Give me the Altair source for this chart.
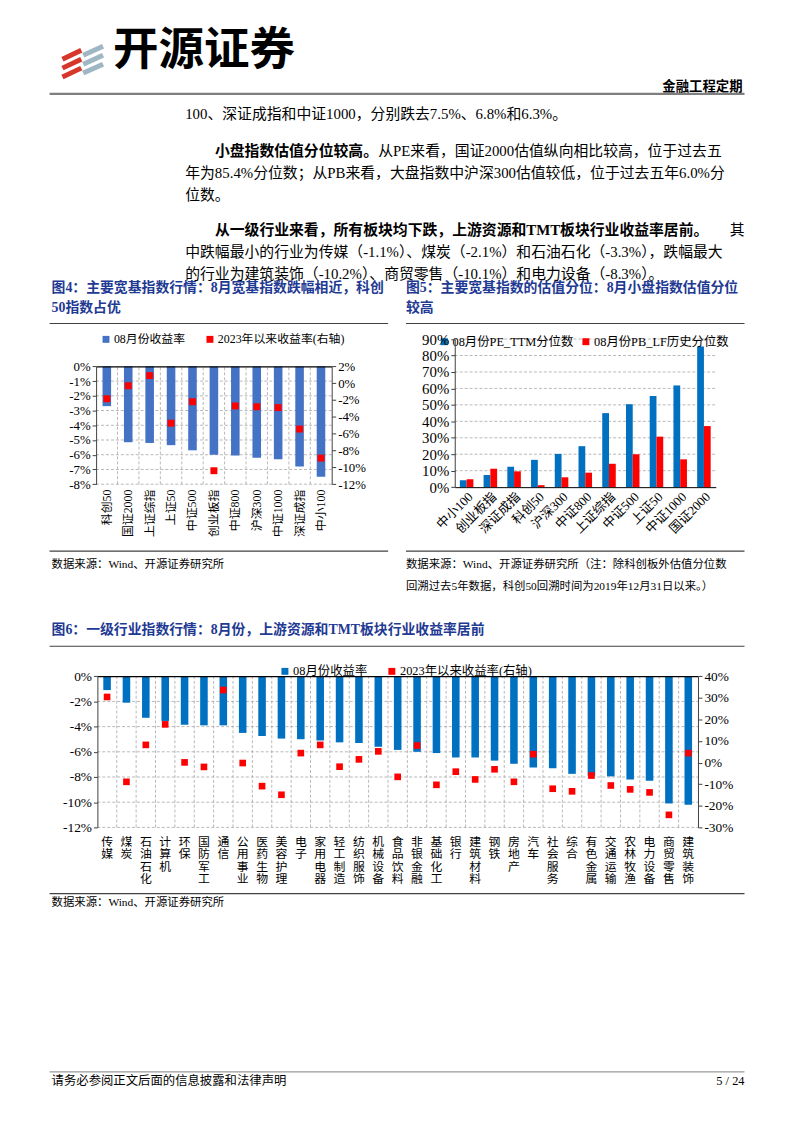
import altair as alt
import pandas as pd

W, H = 794, 1125
SERIF = "Liberation Serif, Noto Sans CJK SC"
CJK = "Noto Sans CJK SC"
NAVY = "#1f3a93"

# ---------------- text content ----------------
brand = "开源证券"
tag = "金融工程定期"
body_plain = [
    "100、深证成指和中证1000，分别跌去7.5%、6.8%和6.3%。",
    "年为85.4%分位数；从PB来看，大盘指数中沪深300估值较低，位于过去五年6.0%分",
    "位数。",
    "中跌幅最小的行业为传媒（-1.1%）、煤炭（-2.1%）和石油石化（-3.3%），跌幅最大",
    "的行业为建筑装饰（-10.2%）、商贸零售（-10.1%）和电力设备（-8.3%）。",
]
body_bold = ["小盘指数估值分位较高。", "从一级行业来看，所有板块均下跌，上游资源和TMT板块行业收益率居前。"]
body_after_bold = ["从PE来看，国证2000估值纵向相比较高，位于过去五", "其"]
title4 = ["图4：主要宽基指数行情：8月宽基指数跌幅相近，科创", "50指数占优"]
title5 = ["图5：主要宽基指数的估值分位：8月小盘指数估值分位", "较高"]
title6 = "图6：一级行业指数行情：8月份，上游资源和TMT板块行业收益率居前"
source_a = "数据来源：Wind、开源证券研究所"
source5 = ["数据来源：Wind、开源证券研究所（注：除科创板外估值分位数",
           "回溯过去5年数据，科创50回溯时间为2019年12月31日以来。）"]
footer_left = "请务必参阅正文后面的信息披露和法律声明"
footer_right = "5 / 24"

# ---------------- figure 4 data ----------------
f4_cats = ["科创50", "国证2000", "上证综指", "上证50", "中证500", "创业板指",
           "中证800", "沪深300", "中证1000", "深证成指", "中小100"]
f4_aug = [-2.7, -5.15, -5.2, -5.35, -5.7, -6.0, -6.05, -6.2, -6.3, -6.8, -7.5]
f4_ytd = [-1.85, -0.3, 0.9, -4.75, -2.2, -10.4, -2.7, -2.8, -2.9, -5.45, -8.9]
f4_series = ["08月份收益率", "2023年以来收益率(右轴)"]
f4_left_ticks = [-8, -7, -6, -5, -4, -3, -2, -1, 0]
f4_right_ticks = [-12, -10, -8, -6, -4, -2, 0, 2]

# ---------------- figure 5 data ----------------
f5_cats = ["中小100", "创业板指", "深证成指", "科创50", "沪深300", "中证800",
           "上证综指", "中证500", "上证50", "中证1000", "国证2000"]
f5_pe = [4.2, 7.4, 12.4, 16.6, 20.2, 24.9, 45.0, 50.4, 55.4, 61.8, 85.4]
f5_pb = [4.8, 11.2, 9.6, 1.2, 6.0, 8.8, 14.2, 20.0, 30.7, 16.9, 37.1]
f5_series = ["08月份PE_TTM分位数", "08月份PB_LF历史分位数"]
f5_ticks = [0, 10, 20, 30, 40, 50, 60, 70, 80, 90]

# ---------------- figure 6 data ----------------
f6_cats = ["传媒", "煤炭", "石油石化", "计算机", "环保", "国防军工", "通信", "公用事业",
           "医药生物", "美容护理", "电子", "家用电器", "轻工制造", "纺织服饰", "机械设备",
           "食品饮料", "非银金融", "基础化工", "银行", "建筑材料", "钢铁", "房地产", "汽车",
           "社会服务", "综合", "有色金属", "交通运输", "农林牧渔", "电力设备", "商贸零售", "建筑装饰"]
f6_aug = [-1.1, -2.1, -3.3, -3.55, -3.85, -3.9, -3.9, -4.5, -4.75, -4.95, -5.0, -5.1,
          -5.25, -5.3, -5.6, -5.85, -6.0, -6.1, -6.45, -6.45, -6.7, -6.95, -7.25, -7.3,
          -7.75, -7.9, -7.95, -8.2, -8.3, -10.1, -10.2]
f6_ytd = [30.4, -8.9, 8.2, 17.7, 0.1, -2.0, 33.6, -0.2, -10.9, -14.9, 4.4, 8.2, -1.9,
          1.5, 5.2, -6.6, 7.9, -10.3, -4.2, -7.8, -3.1, -8.9, 3.9, -12.1, -13.3, -6.0,
          -10.6, -12.4, -13.8, -24.2, 4.4]
f6_series = ["08月份收益率", "2023年以来收益率(右轴)"]
f6_left_ticks = [-12, -10, -8, -6, -4, -2, 0]
f6_right_ticks = [-30, -20, -10, 0, 10, 20, 30, 40]


# ---------------- helpers ----------------
def est_width(s, size):
    w = 0.0
    for ch in s:
        if ord(ch) > 0x2E80:
            w += 1.0
        elif ch in "MW":
            w += 0.92
        elif ch in "ABCDEFGHKNOPQRSTUVXYZ":
            w += 0.67
        elif ch == "%":
            w += 0.83
        elif ch in ".,:;":
            w += 0.25
        elif ch == "-":
            w += 0.33
        else:
            w += 0.5
    return w * size


def text(s, x, y, size=15, bold=False, color="#000", align="left", font=SERIF):
    # shift up slightly: the CJK fallback font sits low with a middle baseline
    return alt.Chart(pd.DataFrame({"t": [s]})).mark_text(
        align=align, baseline="middle", fontSize=size,
        fontWeight="bold" if bold else "normal", color=color, font=font
    ).encode(x=alt.value(x), y=alt.value(y - size * 0.2), text="t:N")


def hline(x1, x2, y, color="#404040", w=1.2):
    return alt.Chart(pd.DataFrame({"a": [0]})).mark_rule(color=color, strokeWidth=w).encode(
        x=alt.value(x1), x2=alt.value(x2), y=alt.value(y))


def stroke(x1, y1, x2, y2, color, w):
    return alt.Chart(pd.DataFrame({"a": [0]})).mark_rule(color=color, strokeWidth=w, strokeCap="butt").encode(
        x=alt.value(x1), y=alt.value(y1), x2=alt.value(x2), y2=alt.value(y2))


def qscale(dom, rng):
    return alt.Scale(domain=dom, range=rng, nice=False, zero=False)


GRID = dict(color="#a6a6a6", strokeWidth=0.8, strokeDash=[3, 2])


def hgrid(values, ydom, yrng, xrng):
    return alt.Chart(pd.DataFrame({"v": values})).mark_rule(**GRID).encode(
        y=alt.Y("v:Q", scale=qscale(ydom, yrng), axis=None),
        x=alt.X(datum=0, type="quantitative", scale=qscale([0, 1], xrng), axis=None),
        x2=alt.X2(datum=1))


def vgrid(cats, xrng, ydom, yrng):
    return alt.Chart(pd.DataFrame({"c": cats[1:]})).mark_rule(**GRID).encode(
        x=alt.X("c:N", bandPosition=0,
                scale=alt.Scale(type="band", domain=cats, range=xrng, paddingInner=0, paddingOuter=0),
                axis=None),
        y=alt.Y(datum=ydom[0], type="quantitative", scale=qscale(ydom, yrng), axis=None),
        y2=alt.Y2(datum=ydom[1]))


def yaxis(orient, offset, values, size=13):
    return alt.Axis(orient=orient, offset=offset, values=values, labelExpr="datum.value + '%'",
                    grid=False, domain=True, domainColor="#404040", ticks=True, tickSize=4,
                    tickColor="#404040", labelFont=SERIF, labelFontSize=size, labelColor="#000",
                    labelPadding=2, labelOverlap=False, labelFlush=False, title=None, zindex=1)


def top_line_axis(ypix):
    return alt.Axis(orient="top", offset=-ypix, labels=False, ticks=False, grid=False,
                    domain=True, domainColor="#000", domainWidth=1.2, title=None, zindex=1)


def legend(x, y, size, pad):
    return alt.Legend(orient="none", legendX=x, legendY=y, direction="horizontal", title=None,
                      symbolType="square", symbolSize=49, symbolStrokeWidth=0, labelFont=SERIF,
                      labelFontSize=size, labelColor="#000", labelOffset=2, columnPadding=pad,
                      padding=0)


# ---------------- figure 4 ----------------
X4 = [89, 327]
Y4 = [475.3, 356.3]
band4 = alt.Scale(type="band", domain=f4_cats, range=X4, paddingInner=0, paddingOuter=0)
col4 = alt.Scale(domain=f4_series, range=["#4472C4", "#FF0000"])
leg4 = legend(93, 323, 12, 18)
df4b = pd.DataFrame({"cat": f4_cats, "v": f4_aug, "s": f4_series[0]})
df4p = pd.DataFrame({"cat": f4_cats, "v": f4_ytd, "s": f4_series[1]})

bars4 = alt.Chart(df4b).mark_bar(width=alt.RelativeBandSize(0.4)).encode(
    x=alt.X("cat:N", scale=band4,
            axis=alt.Axis(orient="bottom", offset=Y4[0] - H, labelAngle=270, domain=False,
                          ticks=False, grid=False, labelFont=SERIF, labelFontSize=12,
                          labelColor="#000", labelPadding=5, labelOverlap=False, title=None)),
    y=alt.Y("v:Q", scale=qscale([-8, 0], Y4), axis=yaxis("left", -X4[0], f4_left_ticks)),
    color=alt.Color("s:N", scale=col4, legend=leg4))
pts4 = alt.Chart(df4p).mark_point(shape="square", filled=True, size=49, opacity=1).encode(
    x=alt.X("cat:N", bandPosition=0.5, scale=band4, axis=top_line_axis(Y4[1])),
    y=alt.Y("v:Q", scale=qscale([-12, 2], Y4), axis=yaxis("right", X4[1] - W, f4_right_ticks)),
    color=alt.Color("s:N", scale=col4, legend=leg4))
fig4 = alt.layer(
    hgrid(f4_left_ticks[:-1], [-8, 0], Y4, X4),
    vgrid(f4_cats, X4, [-8, 0], Y4),
    bars4, pts4
).resolve_scale(x="independent", y="independent")

# ---------------- figure 5 ----------------
X5 = [451.3, 715]
Y5 = [478.3, 328.7]
df5 = pd.DataFrame({
    "cat": f5_cats * 2,
    "v": f5_pe + f5_pb,
    "s": [f5_series[0]] * len(f5_cats) + [f5_series[1]] * len(f5_cats),
})
bars5 = alt.Chart(df5).mark_bar().encode(
    x=alt.X("cat:N", scale=alt.Scale(type="band", domain=f5_cats, range=X5, paddingInner=0.43,
                                      paddingOuter=0.215),
            axis=alt.Axis(orient="bottom", offset=Y5[0] - H, labelAngle=-45, domain=True,
                          domainColor="#000", ticks=False, grid=False, labelFont=SERIF,
                          labelFontSize=13, labelColor="#000", labelPadding=3,
                          labelOverlap=False, title=None, zindex=1)),
    xOffset=alt.XOffset("s:N", scale=alt.Scale(domain=f5_series, paddingInner=0, paddingOuter=0)),
    y=alt.Y("v:Q", scale=qscale([0, 90], Y5), axis=yaxis("left", -X5[0], f5_ticks, size=15)),
    color=alt.Color("s:N", scale=alt.Scale(domain=f5_series, range=["#0070C0", "#FF0000"]),
                    legend=legend(434.5, 325, 12.5, 6)))
fig5 = alt.layer(hgrid(f5_ticks[1:], [0, 90], Y5, X5), bars5).resolve_scale(
    x="independent", y="independent")

# ---------------- figure 6 ----------------
X6 = [90.3, 697]
Y6 = [822, 669.3]
band6 = alt.Scale(type="band", domain=f6_cats, range=X6, paddingInner=0, paddingOuter=0)
col6 = alt.Scale(domain=f6_series, range=["#0070C0", "#FF0000"])
leg6 = legend(273.5, 658, 12.5, 18)
df6b = pd.DataFrame({"cat": f6_cats, "v": f6_aug, "s": f6_series[0]})
df6p = pd.DataFrame({"cat": f6_cats, "v": f6_ytd, "s": f6_series[1]})
bars6 = alt.Chart(df6b).mark_bar(width=alt.RelativeBandSize(0.39)).encode(
    x=alt.X("cat:N", scale=band6,
            axis=alt.Axis(orient="bottom", offset=Y6[0] - H, labelAngle=0,
                          labelExpr="split(datum.label, '')", labelLineHeight=12.6,
                          labelBaseline="top", labelAlign="center", domain=False, ticks=False,
                          grid=False, labelFont=SERIF, labelFontSize=12, labelColor="#000",
                          labelPadding=9, labelOverlap=False, title=None)),
    y=alt.Y("v:Q", scale=qscale([-12, 0], Y6), axis=yaxis("left", -X6[0], f6_left_ticks, size=13.5)),
    color=alt.Color("s:N", scale=col6, legend=leg6))
pts6 = alt.Chart(df6p).mark_point(shape="square", filled=True, size=45, opacity=1).encode(
    x=alt.X("cat:N", bandPosition=0.5, scale=band6, axis=top_line_axis(Y6[1])),
    y=alt.Y("v:Q", scale=qscale([-30, 40], Y6), axis=yaxis("right", X6[1] - W, f6_right_ticks, size=13.5)),
    color=alt.Color("s:N", scale=col6, legend=leg6))
fig6 = alt.layer(
    hgrid(f6_left_ticks[:-1], [-12, 0], Y6, X6),
    vgrid(f6_cats, X6, [-12, 0], Y6),
    bars6, pts6
).resolve_scale(x="independent", y="independent")

# ---------------- page decoration ----------------
deco = []
# logo
for yy in [37, 46, 55]:
    deco.append(stroke(55, yy + 9, 74, yy, "#d7372a", 5))
for yy in [33, 42, 51]:
    deco.append(stroke(76, yy + 9, 96, yy, "#9fb6c3", 5))
deco.append(text(brand, 106, 47, size=46, bold=True, font=CJK))
deco.append(text(tag, 742, 77, size=13.5, bold=True, align="right", font=CJK))
deco.append(hline(42, 744, 81, color="#7f7f7f", w=2.2))

# body text
BX, BI, BS = 179, 209, 15
deco.append(text(body_plain[0], BX, 104, BS))
deco.append(text(body_bold[0], BI, 142, BS, bold=True))
deco.append(text(body_after_bold[0], BI + est_width(body_bold[0], BS), 142, BS))
deco.append(text(body_plain[1], BX, 164, BS))
deco.append(text(body_plain[2], BX, 186, BS))
deco.append(text(body_bold[1], BI, 222, BS, bold=True))
deco.append(text(body_after_bold[1], 744, 222, BS, align="right"))
deco.append(text(body_plain[3], BX, 244, BS))
deco.append(text(body_plain[4], BX, 266, BS))

# figure titles and rules
deco.append(text(title4[0], 44, 280, 14, bold=True, color=NAVY))
deco.append(text(title4[1], 44, 300, 14, bold=True, color=NAVY))
deco.append(text(title5[0], 402, 280, 14, bold=True, color=NAVY))
deco.append(text(title5[1], 402, 300, 14, bold=True, color=NAVY))
deco.append(hline(42, 384, 313))
deco.append(hline(402, 744, 313))
deco.append(hline(42, 384, 543))
deco.append(hline(402, 744, 543))
deco.append(text(source_a, 44, 559, 11.5))
deco.append(text(source5[0], 402, 559, 11.5))
deco.append(text(source5[1], 402, 581, 11.5))
deco.append(text(title6, 44, 625, 14, bold=True, color=NAVY))
deco.append(hline(42, 744, 639))
deco.append(hline(42, 744, 889))
deco.append(text(source_a, 44, 901, 11.5))
deco.append(hline(42, 744, 1069, color="#7f7f7f", w=1))
deco.append(text(footer_left, 44, 1081, 12.5))
deco.append(text(footer_right, 744, 1081, 12.5, align="right"))

chart = alt.layer(*deco, fig4, fig5, fig6).resolve_scale(
    x="independent", y="independent", color="independent"
).properties(
    width=W, height=H, padding=0, background="white",
    autosize=alt.AutoSizeParams(type="none")
).configure_view(strokeWidth=0)

chart.save("out.html", embed_options={"renderer": "svg", "actions": False})
